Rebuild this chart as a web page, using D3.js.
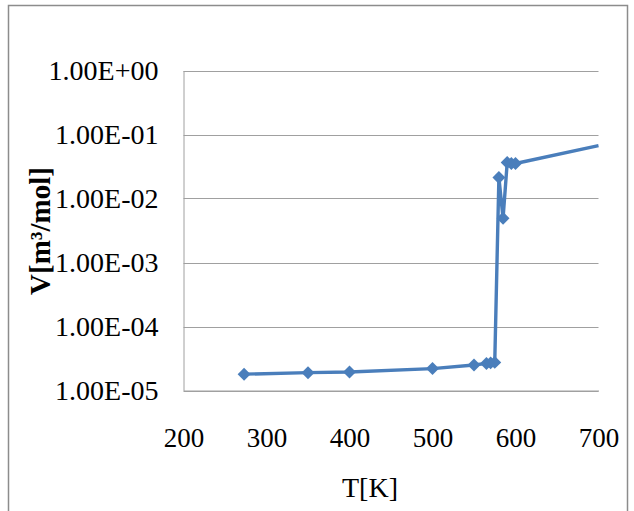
<!DOCTYPE html>
<html>
<head>
<meta charset="utf-8">
<script src="https://cdn.jsdelivr.net/npm/d3@7"></script>
<style>
  html, body { margin: 0; padding: 0; background: #fff; }
  svg { display: block; }
</style>
</head>
<body>
<svg id="chart" width="634" height="511"></svg>
<script>
// ---- data ----
const temperatures = [273, 350, 400, 500, 550, 565, 570, 575, 580, 585, 590, 595, 600, 700];
const volumes = [1.8e-5, 1.9e-5, 1.95e-5, 2.2e-5, 2.5e-5, 2.65e-5, 2.7e-5, 2.75e-5, 0.0213, 0.0049, 0.0365, 0.0352, 0.0352, 0.067];
const xTicks = [200, 300, 400, 500, 600, 700];
const yTicks = [1e-5, 1e-4, 1e-3, 1e-2, 1e-1, 1e0];
const yTickLabels = ["1.00E-05", "1.00E-04", "1.00E-03", "1.00E-02", "1.00E-01", "1.00E+00"];
const xTitle = "T[K]";
const yTitle = "V[m³/mol]";

// ---- layout ----
const W = 634, H = 511;
const plot = { left: 183.5, right: 598.5, top: 70.5, bottom: 390.5 };
const serif = "'Liberation Serif', 'Times New Roman', serif";
const lineColor = "#4A7EBB";
const gridColor = "#A0A0A0";

const svg = d3.select("#chart");

// outer frame
svg.append("rect")
  .attr("x", 8.5).attr("y", 5.5)
  .attr("width", 619).attr("height", 520)
  .attr("fill", "#fff")
  .attr("stroke", "#8C8C8C")
  .attr("stroke-width", 1.5);

const x = d3.scaleLinear().domain([200, 700]).range([plot.left, plot.right]);
const y = d3.scaleLog().domain([1e-5, 1e0]).range([plot.bottom, plot.top]);

// gridlines
svg.append("g")
  .selectAll("line")
  .data(yTicks)
  .join("line")
  .attr("x1", plot.left).attr("x2", plot.right)
  .attr("y1", d => Math.round(y(d)) + 0.5)
  .attr("y2", d => Math.round(y(d)) + 0.5)
  .attr("stroke", gridColor)
  .attr("stroke-width", 1);

// y axis
const yAxis = d3.axisLeft(y)
  .tickValues(yTicks)
  .tickFormat((d, i) => yTickLabels[i])
  .tickSize(0)
  .tickPadding(25);
const gy = svg.append("g")
  .attr("transform", `translate(${plot.left},0)`)
  .call(yAxis);
gy.select(".domain").attr("stroke", gridColor).attr("stroke-width", 1);
gy.selectAll("text")
  .attr("font-family", serif)
  .attr("font-size", 28)
  .attr("fill", "#000")
  .attr("dy", "0.33em");

// x axis
const xAxis = d3.axisBottom(x)
  .tickValues(xTicks)
  .tickFormat(d3.format("d"))
  .tickSize(0)
  .tickPadding(56);
const gx = svg.append("g")
  .attr("transform", `translate(0,${plot.bottom})`)
  .call(xAxis);
gx.select(".domain").attr("stroke", gridColor).attr("stroke-width", 1);
gx.selectAll("text")
  .attr("font-family", serif)
  .attr("font-size", 27)
  .attr("fill", "#000")
  .attr("dy", "0");

// axis titles
svg.append("text")
  .attr("x", 370)
  .attr("y", 497)
  .attr("text-anchor", "middle")
  .attr("font-family", serif)
  .attr("font-size", 28)
  .attr("fill", "#000")
  .text(xTitle);

svg.append("text")
  .attr("transform", "translate(50,231) rotate(-90)")
  .attr("text-anchor", "middle")
  .attr("font-family", serif)
  .attr("font-size", 29)
  .attr("font-weight", "bold")
  .attr("fill", "#000")
  .text(yTitle);

// series
const pts = temperatures.map((t, i) => ({ t, v: volumes[i] }));
const line = d3.line().x(d => x(d.t)).y(d => y(d.v));
svg.append("path")
  .datum(pts)
  .attr("d", line)
  .attr("fill", "none")
  .attr("stroke", lineColor)
  .attr("stroke-width", 3.4)
  .attr("stroke-linejoin", "round");

const diamond = d3.symbol().type(d3.symbolSquare).size(84);
svg.append("g")
  .selectAll("path")
  .data(pts.filter(d => d.t < 700))
  .join("path")
  .attr("d", diamond)
  .attr("transform", d => `translate(${x(d.t)},${y(d.v)}) rotate(45)`)
  .attr("fill", lineColor);
</script>
</body>
</html>
